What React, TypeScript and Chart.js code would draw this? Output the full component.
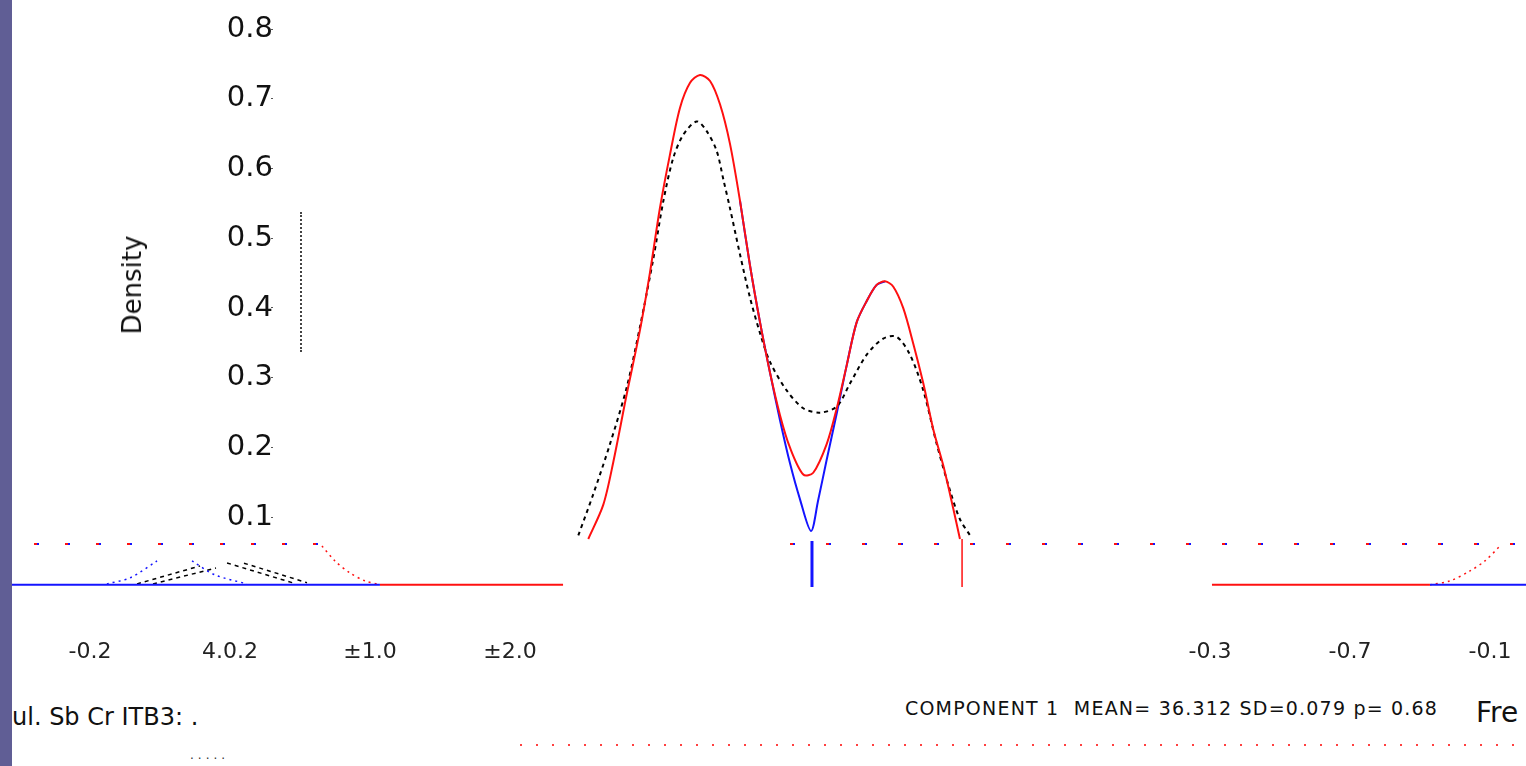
import React, { useEffect, useRef } from "react";
import { Chart, registerables } from "chart.js";

Chart.register(...registerables);

// ---- axis ticks ----
const xTickValues = [0, 1, 2, 3, 4, 5, 6, 7, 8, 9, 10];
const xTickLabels = ["-0.2", "4.0.2", "±1.0", "±2.0", "", "", "", "", "-0.3", "-0.7", "-0.1"];
const yTickValues = [0.1, 0.2, 0.3, 0.4, 0.5, 0.6, 0.7, 0.8];

// ---- mixture density (red) ----
const mixX = [3.559, 3.666, 3.738, 3.834, 3.929, 4.0, 4.071, 4.143, 4.214, 4.286, 4.357, 4.429, 4.5, 4.571, 4.643, 4.714, 4.786, 4.857, 4.929, 5.0, 5.095, 5.166, 5.262, 5.334, 5.405, 5.476, 5.548, 5.619, 5.679, 5.738, 5.809, 5.881, 5.952, 6.024, 6.095, 6.166, 6.214];
const mixY = [0.0687, 0.1176, 0.1792, 0.2766, 0.3689, 0.4511, 0.5434, 0.6203, 0.6869, 0.7229, 0.7342, 0.7256, 0.6921, 0.6357, 0.5536, 0.4613, 0.3793, 0.3074, 0.2459, 0.1996, 0.1611, 0.1637, 0.2048, 0.2562, 0.3177, 0.3793, 0.41, 0.4331, 0.4382, 0.4305, 0.3997, 0.3485, 0.2919, 0.2254, 0.174, 0.1125, 0.0687];

// ---- component curve (blue) ----
const compX = [4.643, 4.714, 4.786, 4.857, 4.929, 5.0, 5.071, 5.15, 5.2, 5.262, 5.334, 5.405, 5.476, 5.548, 5.619, 5.679];
const compY = [0.5536, 0.4613, 0.3793, 0.3074, 0.2387, 0.1772, 0.1259, 0.0801, 0.1231, 0.1823, 0.249, 0.3177, 0.3793, 0.41, 0.4331, 0.4382];

// ---- empirical density (black dashed) ----
const empX = [3.488, 3.595, 3.714, 3.834, 3.929, 4.024, 4.095, 4.166, 4.238, 4.334, 4.405, 4.476, 4.524, 4.571, 4.643, 4.714, 4.786, 4.857, 4.976, 5.095, 5.214, 5.334, 5.429, 5.548, 5.666, 5.762, 5.857, 5.952, 6.048, 6.143, 6.214, 6.286];
const empY = [0.0738, 0.1331, 0.2047, 0.2864, 0.3735, 0.471, 0.553, 0.6151, 0.6485, 0.6675, 0.6536, 0.6254, 0.5843, 0.5434, 0.4767, 0.415, 0.3638, 0.3227, 0.2818, 0.2562, 0.2499, 0.2586, 0.2919, 0.333, 0.3561, 0.3586, 0.333, 0.2818, 0.2048, 0.1381, 0.097, 0.0738];

// ---- markers (vertical bars) ----
const blueBarX = [5.157, 5.157];
const blueBarY = [0.0658, 0];
const redBarX = [6.229, 6.229];
const redBarY = [0.0687, 0];

// ---- baselines ----
const blueBaseLeftX = [-0.557, 2.071];
const redBaseLeftX = [2.071, 3.379];
const redBaseRightX = [8.014, 9.571];
const blueBaseRightX = [9.571, 10.257];
const baseY = [0.003, 0.003];

// ---- dotted reference rows ----
const dotLeftX = [-0.4, 1.66];
const dotRightX = [5.0, 10.257];
const dotY = [0.0615, 0.0615];

// ---- tails & small bumps ----
const tailLeftX = [1.657, 1.75, 1.857, 1.964, 2.071];
const tailLeftY = [0.0587, 0.0372, 0.02, 0.0086, 0.003];
const tailRightX = [9.571, 9.714, 9.857, 9.964, 10.071];
const tailRightY = [0.003, 0.0086, 0.0229, 0.0372, 0.0587];
const bumpArmAX = [0.121, 0.286, 0.479];
const bumpArmAY = [0.0043, 0.0129, 0.0372];
const bumpArmBX = [0.729, 0.893, 1.121];
const bumpArmBY = [0.0372, 0.0172, 0.0043];
const strokeAX = [0.336, 0.786];
const strokeAY = [0.0043, 0.03];
const strokeBX = [0.45, 0.9];
const strokeBY = [0.0043, 0.027];
const strokeCX = [0.979, 1.45];
const strokeCY = [0.0343, 0.0057];
const strokeDX = [1.1, 1.55];
const strokeDY = [0.034, 0.006];

const pts = (xs: number[], ys: number[]) => xs.map((x, i) => ({ x, y: ys[i] }));

const RED = "#ff1010";
const BLUE = "#1414ff";

export default function App() {
  const ref = useRef<HTMLCanvasElement | null>(null);

  useEffect(() => {
    if (!ref.current) return;
    const line = (data: any, color: string, width: number, extra: any = {}) => ({
      data,
      borderColor: color,
      backgroundColor: color,
      borderWidth: width,
      showLine: true,
      pointRadius: 0,
      fill: false,
      tension: 0,
      ...extra,
    });
    const chart = new Chart(ref.current, {
      type: "scatter",
      data: {
        datasets: [
          line(pts(mixX, mixY), RED, 2, { tension: 0.3 }),
          line(pts(redBarX, redBarY), RED, 1.5),
          line(pts(blueBarX, blueBarY), BLUE, 3),
          line(pts(empX, empY), "#000", 2, { tension: 0.3, borderDash: [4, 4] }),
          line(pts(compX, compY), BLUE, 2, { tension: 0.3 }),
          line(pts(blueBaseLeftX, baseY), BLUE, 2),
          line(pts(redBaseLeftX, baseY), RED, 2),
          line(pts(redBaseRightX, baseY), RED, 2),
          line(pts(blueBaseRightX, baseY), BLUE, 2),
          line(pts(dotLeftX, dotY), RED, 2, { borderDash: [3, 28] }),
          line(pts(dotLeftX, dotY), BLUE, 2, { borderDash: [2, 29], borderDashOffset: -3 }),
          line(pts(dotRightX, dotY), RED, 2, { borderDash: [3, 33] }),
          line(pts(dotRightX, dotY), BLUE, 2, { borderDash: [2, 34], borderDashOffset: -3 }),
          line(pts(tailLeftX, tailLeftY), RED, 1.5, { borderDash: [2, 4], tension: 0.3 }),
          line(pts(tailRightX, tailRightY), RED, 1.5, { borderDash: [2, 4], tension: 0.3 }),
          line(pts(bumpArmAX, bumpArmAY), BLUE, 1.5, { borderDash: [2, 4], tension: 0.3 }),
          line(pts(bumpArmBX, bumpArmBY), BLUE, 1.5, { borderDash: [2, 4], tension: 0.3 }),
          line(pts(strokeAX, strokeAY), "#000", 1.5, { borderDash: [4, 4] }),
          line(pts(strokeBX, strokeBY), "#000", 1.5, { borderDash: [4, 4] }),
          line(pts(strokeCX, strokeCY), "#000", 1.5, { borderDash: [4, 4] }),
          line(pts(strokeDX, strokeDY), "#000", 1.5, { borderDash: [4, 4] }),
        ],
      },
      options: {
        responsive: false,
        animation: false,
        devicePixelRatio: 1,
        layout: { padding: 0, autoPadding: false },
        plugins: { legend: { display: false }, tooltip: { enabled: false } },
        scales: {
          x: {
            type: "linear",
            min: -0.557,
            max: 10.257,
            grid: { display: false, drawTicks: false },
            border: { display: false },
            afterBuildTicks: (s: any) => {
              s.ticks = xTickValues.map((v) => ({ value: v }));
            },
            ticks: {
              autoSkip: false,
              maxRotation: 0,
              padding: 14,
              color: "#222",
              font: { family: "DejaVu Sans", size: 22 },
              callback: (_v: any, i: number) => xTickLabels[i] ?? "",
            },
          },
          y: {
            type: "linear",
            position: { x: 1.307 } as any,
            min: -0.0541,
            max: 0.81388,
            grid: { display: true, drawOnChartArea: false, drawTicks: true, tickLength: 2, color: "#555" },
            border: { display: false },
            afterBuildTicks: (s: any) => {
              s.ticks = yTickValues.map((v) => ({ value: v }));
            },
            ticks: {
              padding: 22,
              color: "#111",
              font: { family: "DejaVu Sans", size: 29 },
              callback: (v: any) => Number(v).toFixed(1),
            },
          },
        },
      } as any,
    });
    return () => chart.destroy();
  }, []);

  return (
    <div style={{ position: "relative", width: 1526, height: 766, background: "#fff", overflow: "hidden", fontFamily: "DejaVu Sans" }}>
      <style>{`body{margin:0}`}</style>
      <canvas ref={ref} width={1514} height={699} style={{ position: "absolute", left: 12, top: -20 }} />
      <div style={{ position: "absolute", left: 0, top: 0, width: 12, height: 766, background: "#605e95" }} />
      <div style={{ position: "absolute", left: 132, top: 285, transform: "translate(-50%,-50%) rotate(-90deg)", fontSize: 26, color: "#111", whiteSpace: "nowrap" }}>Density</div>
      <div style={{ position: "absolute", left: 300, top: 212, height: 140, borderLeft: "2px dotted #444" }} />
      <div style={{ position: "absolute", left: 12, top: 703, fontSize: 24, color: "#111", whiteSpace: "nowrap" }}>ul. Sb Cr ITB3: .</div>
      <div style={{ position: "absolute", left: 190, top: 748, fontSize: 12, color: "#333", letterSpacing: 4 }}>.....</div>
      <div style={{ position: "absolute", left: 905, top: 697, fontSize: 19, color: "#111", whiteSpace: "pre", letterSpacing: 1.2 }}>COMPONENT 1  MEAN= 36.312 SD=0.079 p= 0.68</div>
      <div style={{ position: "absolute", left: 1476, top: 696, fontSize: 28, color: "#111", whiteSpace: "nowrap" }}>Fre</div>
      <div style={{ position: "absolute", left: 520, top: 744, width: 1006, height: 2, background: "repeating-linear-gradient(to right, #ff4040 0 2px, transparent 2px 16px)" }} />
    </div>
  );
}
